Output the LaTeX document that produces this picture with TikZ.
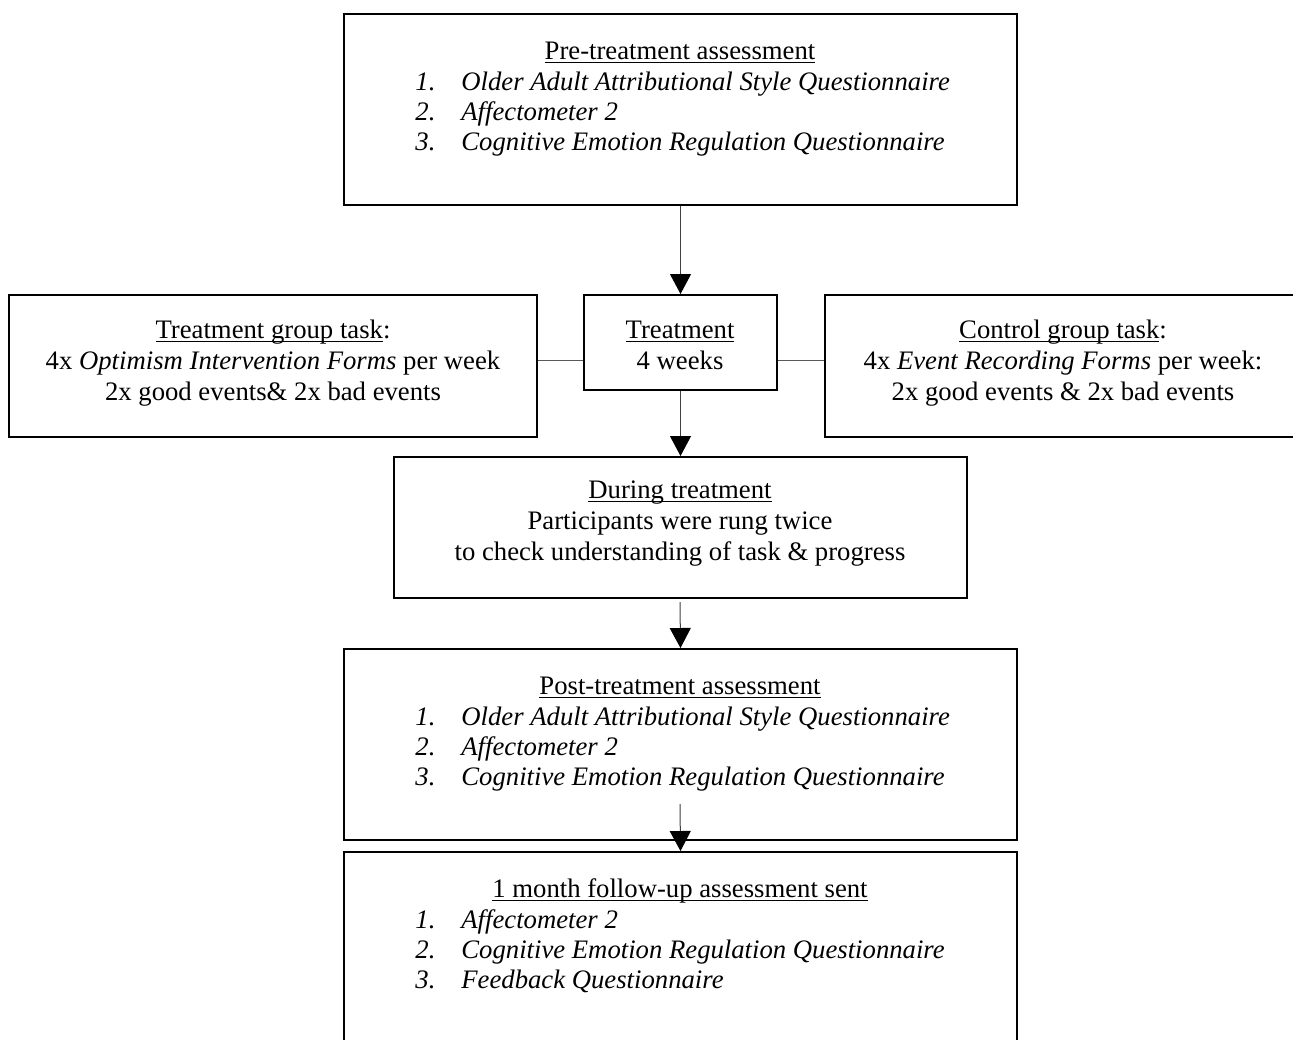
\documentclass[tikz,border=0pt]{standalone}
\usepackage{fontspec}
\setmainfont{Liberation Serif}
\usetikzlibrary{arrows.meta,fit}

% underlined heading text: a rule of the text's width just under the baseline
\newcommand\uln[1]{\setbox0=\hbox{#1}\rlap{\rule[-2.2pt]{\wd0}{0.9pt}}\box0}

% one numbered, italic list entry: name, baseline y, number, text
\newcommand\listrow[4]{%
  \node[txt, anchor=base west] (#1n) at (415,#2) {\textit{#3}};
  \node[txt, anchor=base west] (#1t) at (461,#2) {\textit{#4}};
}

\begin{document}
\begin{tikzpicture}[x=0.5pt, y=-0.5pt,
    box/.style={draw=black, line width=1pt, inner sep=0pt, fill=white},
    txt/.style={inner sep=0pt, font=\fontsize{13.35pt}{15pt}\selectfont},
    flow/.style={draw=black!75, line width=0.5pt,
      -{Triangle[width=10.5pt,length=10pt,black]}},
    link/.style={draw=black!65, line width=0.5pt}]
\useasboundingbox (0,0) rectangle (1293,1039);
\clip (0,0) rectangle (1293,1039);

% boxes
\node[box, fit={(344,14) (1017,205)}]   (pre)    {};
\node[box, fit={(584,295) (777,390)}]   (treat)  {};
\node[box, fit={(9,295) (537,437)}]     (tgroup) {};
\node[box, fit={(825,295) (1301,437)}]  (cgroup) {};
\node[box, fit={(394,457) (967,598)}]   (during) {};
\node[box, fit={(344,649) (1017,840)}]  (post)   {};
\node[box, fit={(344,852) (1017,1060)}] (follow) {};

% pre-treatment assessment
\node[txt, anchor=base] (preH) at (680,59) {\uln{Pre-treatment assessment}};
\listrow{preA}{90}{1.}{Older Adult Attributional Style Questionnaire}
\listrow{preB}{120}{2.}{Affectometer 2}
\listrow{preC}{150}{3.}{Cognitive Emotion Regulation Questionnaire}

% treatment
\node[txt, anchor=base] (treatH) at (680,338) {\uln{Treatment}};
\node[txt, anchor=base] (treatL) at (680,369) {4 weeks};

% treatment group task
\node[txt, anchor=base] (tgH) at (273,338) {\uln{Treatment group task}:};
\node[txt, anchor=base] (tgA) at (273,369) {4x \textit{Optimism Intervention Forms} per week};
\node[txt, anchor=base] (tgB) at (273,400) {2x good events\& 2x bad events};

% control group task
\node[txt, anchor=base] (cgH) at (1063,338) {\uln{Control group task}:};
\node[txt, anchor=base] (cgA) at (1063,369) {4x \textit{Event Recording Forms} per week:};
\node[txt, anchor=base] (cgB) at (1063,400) {2x good events \& 2x bad events};

% during treatment
\node[txt, anchor=base] (durH) at (680,498) {\uln{During treatment}};
\node[txt, anchor=base] (durA) at (680,529) {Participants were rung twice};
\node[txt, anchor=base] (durB) at (680,560) {to check understanding of task \& progress};

% post-treatment assessment
\node[txt, anchor=base] (postH) at (680,694) {\uln{Post-treatment assessment}};
\listrow{postA}{725}{1.}{Older Adult Attributional Style Questionnaire}
\listrow{postB}{755}{2.}{Affectometer 2}
\listrow{postC}{785}{3.}{Cognitive Emotion Regulation Questionnaire}

% follow-up assessment
\node[txt, anchor=base] (folH) at (680,897) {\uln{1 month follow-up assessment sent}};
\listrow{folA}{928}{1.}{Affectometer 2}
\listrow{folB}{958}{2.}{Cognitive Emotion Regulation Questionnaire}
\listrow{folC}{988}{3.}{Feedback Questionnaire}

% connectors
\coordinate (linky) at (0,360);
\coordinate (duringout) at (680,602);
\coordinate (postout) at (680,804);
\draw[link] (tgroup.east |- linky) -- (treat.west |- linky);
\draw[link] (treat.east |- linky) -- (cgroup.west |- linky);
\draw[flow] (pre.south) -- (treat.north);
\draw[flow] (treat.south) -- (during.north);
\draw[flow] (duringout) -- (post.north);
\draw[flow] (postout) -- (follow.north);
\end{tikzpicture}
\end{document}
